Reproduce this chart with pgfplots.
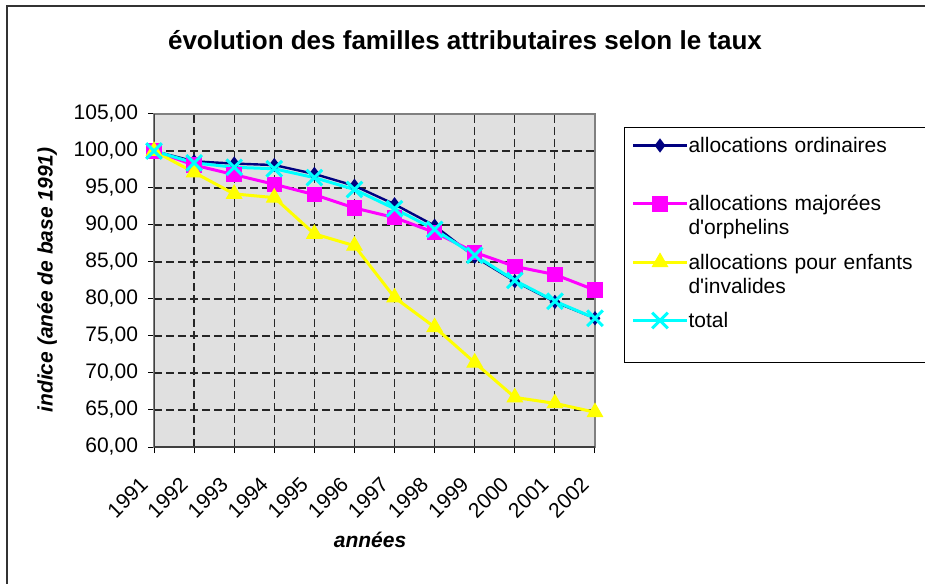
\documentclass[border=0pt]{standalone}
\usepackage{fontspec}
\setmainfont{Liberation Sans}
\usepackage{pgfplots}
\pgfplotsset{compat=1.18}
\definecolor{cNavy}{RGB}{0,0,128}
\definecolor{cPink}{RGB}{255,0,255}
\definecolor{cYellow}{RGB}{255,255,0}
\definecolor{cCyan}{RGB}{0,255,255}
\definecolor{cBack}{RGB}{224,224,224}
\definecolor{cFrame}{RGB}{128,128,128}
\begin{document}
\begin{tikzpicture}
\useasboundingbox (0pt,0pt) rectangle (462.5pt,291.5pt);
\draw[line width=1pt, black!80] (3.5pt,-2pt) -- (3.5pt,288.5pt) -- (470pt,288.5pt);
\node[anchor=base, font=\bfseries\fontsize{13}{15}\selectfont] at (232.5pt,266.5pt) {évolution des familles attributaires selon le taux};
\begin{axis}[
  at={(77pt,68pt)}, anchor=south west,
  width=220.5pt, height=166.5pt, scale only axis,
  xmin=1991, xmax=2002, ymin=60, ymax=105,
  xtick={1991,1992,...,2002},
  ytick={60,65,...,105},
  axis background/.style={fill=cBack},
  axis line style={draw=cFrame, line width=1pt},
  tick style={black, line width=0.5pt},
  major tick length=3pt,
  tick align=outside,
  xtick pos=left, ytick pos=left,
  grid=major,
  major grid style={black!85, line width=0.6pt, dash pattern=on 4pt off 2pt},
  font=\fontsize{10.5}{12}\selectfont,
  ticklabel style={font=\fontsize{10.5}{12}\selectfont},
  /pgf/number format/assume math mode=true,
  yticklabel style={/pgf/number format/.cd, fixed, fixed zerofill, precision=2, use comma, 1000 sep={}},
  xticklabel style={/pgf/number format/1000 sep={}, xshift=-2.5pt, rotate=45, anchor=east},
  xticklabel shift=11.5pt,
  yticklabel shift=1.5pt,
  xlabel={\bfseries\itshape années},
  ylabel={\bfseries\itshape indice (anée de base 1991)},
  x label style={at={(axis description cs:0.49,-0.279)}, anchor=center},
  y label style={at={(axis description cs:-0.2426,0.5015)}, anchor=center, rotate=0},
  legend style={at={(axis description cs:1.0658,0.961)}, anchor=north west,
    draw=black, line width=0.5pt, fill=white,
    inner xsep=3.5pt, inner ysep=3pt, row sep=5.17pt, column sep=0pt,
    cells={anchor=base west},
    nodes={inner sep=0pt, text width=140pt, text height=9.5pt, text depth=14.5pt,
      font=\fontsize{10.5}{12}\selectfont}},
  legend image code/.code={%
    \draw[mark repeat=2, mark phase=2] plot coordinates {(0pt,3.5pt) (13.5pt,3.5pt) (27pt,3.5pt)};},
]
\draw[black!75, line width=1pt] (rel axis cs:0,0) -- (rel axis cs:0,1);
\draw[black!75, line width=1pt] (rel axis cs:0,0) -- (rel axis cs:1,0);
\addplot[cNavy, line width=1.2pt, mark=diamond*, mark size=2.6pt, mark options={solid, fill=cNavy, draw=cNavy}]
  coordinates {(1991,100) (1992,98.6) (1993,98.3) (1994,98.1) (1995,96.9) (1996,95.3) (1997,92.8) (1998,89.9) (1999,85.7) (2000,82.4) (2001,79.6) (2002,77.4)};
\addlegendentry{allocations ordinaires}
\addplot[cPink, line width=1.5pt, mark=square*, mark size=3.6pt, mark options={solid, fill=cPink, draw=cPink, line width=0.5pt}]
  coordinates {(1991,100) (1992,98.1) (1993,96.8) (1994,95.5) (1995,94.1) (1996,92.3) (1997,91.0) (1998,89.0) (1999,86.3) (2000,84.4) (2001,83.3) (2002,81.2)};
\addlegendentry{allocations majorées\newline d\textquotesingle orphelins}
\addplot[cYellow, line width=1.5pt, mark=triangle*, mark size=4.4pt, mark options={solid, fill=cYellow, draw=cYellow, line width=0.5pt}]
  coordinates {(1991,100) (1992,97.1) (1993,94.2) (1994,93.7) (1995,88.8) (1996,87.2) (1997,80.2) (1998,76.2) (1999,71.4) (2000,66.7) (2001,65.9) (2002,64.7)};
\addlegendentry{allocations pour enfants\newline d\textquotesingle invalides}
\addplot[cCyan, line width=1.5pt, mark=x, mark size=5.5pt, mark options={solid, draw=cCyan, line width=1.5pt}]
  coordinates {(1991,100) (1992,98.4) (1993,97.8) (1994,97.6) (1995,96.4) (1996,94.8) (1997,92.2) (1998,89.4) (1999,85.9) (2000,82.5) (2001,79.7) (2002,77.4)};
\addlegendentry{total}
\end{axis}
\end{tikzpicture}
\end{document}
